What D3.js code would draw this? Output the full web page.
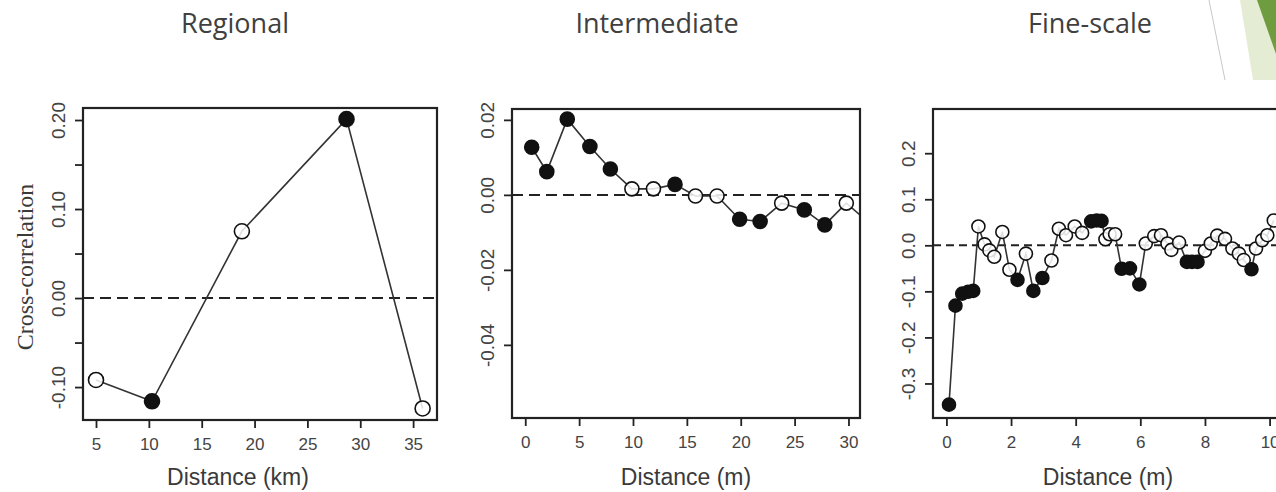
<!DOCTYPE html>
<html>
<head>
<meta charset="utf-8">
<script src="https://cdn.jsdelivr.net/npm/d3@7"></script>
<style>
  html, body { margin: 0; padding: 0; background: #fff; overflow: hidden; }
  svg { display: block; }
</style>
</head>
<body>
<div id="chart"></div>
<script>
// Cross-correlation vs distance at three scales

// panel titles
const panelTitles = ['Regional', 'Intermediate', 'Fine-scale'];

// Regional (km)
const regionalDist = [5.0, 10.3, 18.8, 28.7, 35.9];
const regionalCorr = [-0.092, -0.116, 0.075, 0.201, -0.124];
const regionalFilled = [0, 1, 0, 1, 0];
const regionalYTicks = [-0.10, -0.05, 0.00, 0.05, 0.10, 0.15, 0.20];
const regionalYLabels = [-0.10, 0.00, 0.10, 0.20];
const regionalXTicks = [5, 10, 15, 20, 25, 30, 35];

// Intermediate (m)
const interDist = [0.6, 2.0, 3.9, 6.0, 7.9, 9.9, 11.9, 13.9, 15.8, 17.8, 19.9, 21.8, 23.8, 25.9, 27.8, 29.8, 31.8];
const interCorr = [0.0127, 0.0062, 0.0202, 0.0129, 0.0069, 0.0016, 0.0016, 0.0028, -0.0003, -0.0003,
                   -0.0065, -0.0071, -0.0022, -0.0040, -0.0080, -0.0022, -0.0072];
const interFilled = [1, 1, 1, 1, 1, 0, 0, 1, 0, 0, 1, 1, 0, 1, 1, 0, 1];
const interYTicks = [-0.04, -0.02, 0.00, 0.02];
const interXTicks = [0, 5, 10, 15, 20, 25, 30];

// Fine-scale (m)
const fineDist = [0.08, 0.28, 0.49, 0.67, 0.83, 0.99, 1.18, 1.33, 1.48, 1.73, 1.95, 2.20, 2.46, 2.69, 2.97,
                  3.25, 3.48, 3.70, 3.97, 4.20, 4.48, 4.65, 4.80, 4.92, 5.05, 5.22, 5.42, 5.68, 5.97, 6.17,
                  6.43, 6.64, 6.84, 6.96, 7.20, 7.44, 7.60, 7.77, 8.00, 8.18, 8.38, 8.62, 8.85, 9.05, 9.20,
                  9.44, 9.58, 9.77, 9.93, 10.13];
const fineCorr = [-0.346, -0.131, -0.105, -0.101, -0.099, 0.041, 0.002, -0.011, -0.025, 0.029, -0.053, -0.075,
                  -0.018, -0.099, -0.071, -0.033, 0.036, 0.022, 0.041, 0.027, 0.052, 0.054, 0.053, 0.013,
                  0.024, 0.024, -0.051, -0.050, -0.085, 0.004, 0.020, 0.022, 0.004, -0.010, 0.006, -0.036,
                  -0.036, -0.036, -0.012, 0.004, 0.021, 0.014, -0.007, -0.018, -0.032, -0.052, -0.007,
                  0.011, 0.022, 0.054];
const fineFilled = [1, 1, 1, 1, 1, 0, 0, 0, 0, 0, 0, 1, 0, 1, 1, 0, 0, 0, 0, 0, 1, 1, 1, 0, 0, 0, 1, 1, 1, 0,
                    0, 0, 0, 0, 0, 1, 1, 1, 0, 0, 0, 0, 0, 0, 0, 1, 0, 0, 0, 0];
const fineYTicks = [-0.3, -0.2, -0.1, 0.0, 0.1, 0.2];
const fineXTicks = [0, 2, 4, 6, 8, 10];

const W = 1276, H = 492;

const panels = [
    {
        title: panelTitles[0], titleX: 235,
        dist: regionalDist, corr: regionalCorr, filled: regionalFilled,
        box: { x0: 83, x1: 437, y0: 108, y1: 420 },
        xDomain: [3.77, 37.26], yDomain: [-0.137, 0.2135],
        xTicks: regionalXTicks, yTicks: regionalYTicks, yLabels: regionalYLabels, yDigits: 2,
        xLabel: 'Distance (km)', xLabelX: 238, r: 7.5, dash: '11,6'
    },
    {
        title: panelTitles[1], titleX: 657,
        dist: interDist, corr: interCorr, filled: interFilled,
        box: { x0: 512, x1: 860, y0: 109, y1: 418 },
        xDomain: [-1.23, 31.07], yDomain: [-0.0595, 0.0229],
        xTicks: interXTicks, yTicks: interYTicks, yLabels: interYTicks, yDigits: 2,
        xLabel: 'Distance (m)', xLabelX: 686, r: 7, dash: '11,6'
    },
    {
        title: panelTitles[2], titleX: 1090,
        dist: fineDist, corr: fineCorr, filled: fineFilled,
        box: { x0: 933, x1: 1320, y0: 109, y1: 418 },
        xDomain: [-0.415, 11.56], yDomain: [-0.375, 0.296],
        xTicks: fineXTicks, yTicks: fineYTicks, yLabels: fineYTicks, yDigits: 1,
        xLabel: 'Distance (m)', xLabelX: 1108, r: 6.5, dash: '8,5'
    }
];

const svg = d3.select('#chart')
    .append('svg')
    .attr('width', W)
    .attr('height', H);

svg.append('rect')
    .attr('width', W)
    .attr('height', H)
    .attr('fill', '#fff');

// slide decoration, top right
svg.append('line')
    .attr('x1', 1209).attr('y1', 0)
    .attr('x2', 1225).attr('y2', 80)
    .attr('stroke', '#c8c8c8')
    .attr('stroke-width', 1);
svg.append('polygon')
    .attr('points', '1240,0 1276,0 1276,80 1253,80')
    .attr('fill', '#e4edd3');
svg.append('polygon')
    .attr('points', '1257,0 1276,0 1276,54')
    .attr('fill', '#6f9c3f');

const defs = svg.append('defs');

panels.forEach((p, i) => {
    const b = p.box;

    // title
    svg.append('text')
        .attr('x', p.titleX)
        .attr('y', 33)
        .attr('text-anchor', 'middle')
        .attr('font-family', '"Open Sans", sans-serif')
        .attr('font-size', '27px')
        .attr('fill', '#404040')
        .text(p.title);

    const x = d3.scaleLinear().domain(p.xDomain).range([b.x0, b.x1]);
    const y = d3.scaleLinear().domain(p.yDomain).range([b.y1, b.y0]);

    defs.append('clipPath')
        .attr('id', `clip-${i}`)
        .append('rect')
        .attr('x', b.x0)
        .attr('y', b.y0)
        .attr('width', b.x1 - b.x0)
        .attr('height', b.y1 - b.y0);

    const g = svg.append('g');
    const plot = g.append('g').attr('clip-path', `url(#clip-${i})`);

    // zero reference
    plot.append('line')
        .attr('x1', b.x0).attr('x2', b.x1)
        .attr('y1', y(0)).attr('y2', y(0))
        .attr('stroke', '#222')
        .attr('stroke-width', 2)
        .attr('stroke-dasharray', p.dash);

    const pts = p.dist.map((d, k) => ({ d, c: p.corr[k], f: p.filled[k] }));

    const line = d3.line()
        .x(d => x(d.d))
        .y(d => y(d.c));

    plot.append('path')
        .datum(pts)
        .attr('fill', 'none')
        .attr('stroke', '#333')
        .attr('stroke-width', 1.6)
        .attr('d', line);

    plot.selectAll('circle')
        .data(pts)
        .enter()
        .append('circle')
        .attr('cx', d => x(d.d))
        .attr('cy', d => y(d.c))
        .attr('r', p.r)
        .attr('fill', d => d.f ? '#111' : '#fff')
        .attr('fill-opacity', d => d.f ? 1 : 0.85)
        .attr('stroke', '#111')
        .attr('stroke-width', 1.6);

    // box
    g.append('rect')
        .attr('x', b.x0)
        .attr('y', b.y0)
        .attr('width', b.x1 - b.x0)
        .attr('height', b.y1 - b.y0)
        .attr('fill', 'none')
        .attr('stroke', '#222')
        .attr('stroke-width', 2.2);

    // x axis
    const xAxis = g.append('g')
        .attr('transform', `translate(0,${b.y1})`)
        .call(d3.axisBottom(x).tickValues(p.xTicks).tickSizeInner(8).tickSizeOuter(0).tickPadding(10)
            .tickFormat(d3.format('d')));
    xAxis.select('.domain').remove();
    xAxis.selectAll('line').attr('stroke', '#222').attr('stroke-width', 1.8);
    xAxis.selectAll('text')
        .attr('font-family', '"Liberation Sans", Arial, sans-serif')
        .attr('font-size', '17px')
        .attr('fill', '#444');

    // y axis, rotated labels
    const yAxis = g.append('g')
        .attr('transform', `translate(${b.x0},0)`)
        .call(d3.axisLeft(y).tickValues(p.yTicks).tickSizeInner(8).tickSizeOuter(0)
            .tickFormat(v => p.yLabels.some(l => Math.abs(l - v) < 1e-9) ? v.toFixed(p.yDigits) : ''));
    yAxis.select('.domain').remove();
    yAxis.selectAll('line').attr('stroke', '#222').attr('stroke-width', 1.8);
    yAxis.selectAll('text')
        .attr('transform', 'rotate(-90)')
        .attr('x', 0)
        .attr('y', -18)
        .attr('dy', 0)
        .attr('text-anchor', 'middle')
        .attr('font-family', '"Liberation Sans", Arial, sans-serif')
        .attr('font-size', '19px')
        .attr('fill', '#444');

    // x label
    svg.append('text')
        .attr('x', p.xLabelX)
        .attr('y', 485)
        .attr('text-anchor', 'middle')
        .attr('font-family', '"Liberation Sans", Arial, sans-serif')
        .attr('font-size', '23px')
        .attr('fill', '#3a3a3a')
        .text(p.xLabel);
});

// y label, left panel only
svg.append('text')
    .attr('transform', 'translate(33,267) rotate(-90)')
    .attr('text-anchor', 'middle')
    .attr('font-family', '"Liberation Serif", "Times New Roman", serif')
    .attr('font-size', '24px')
    .attr('fill', '#3a3a3a')
    .text('Cross-correlation');
</script>
</body>
</html>
